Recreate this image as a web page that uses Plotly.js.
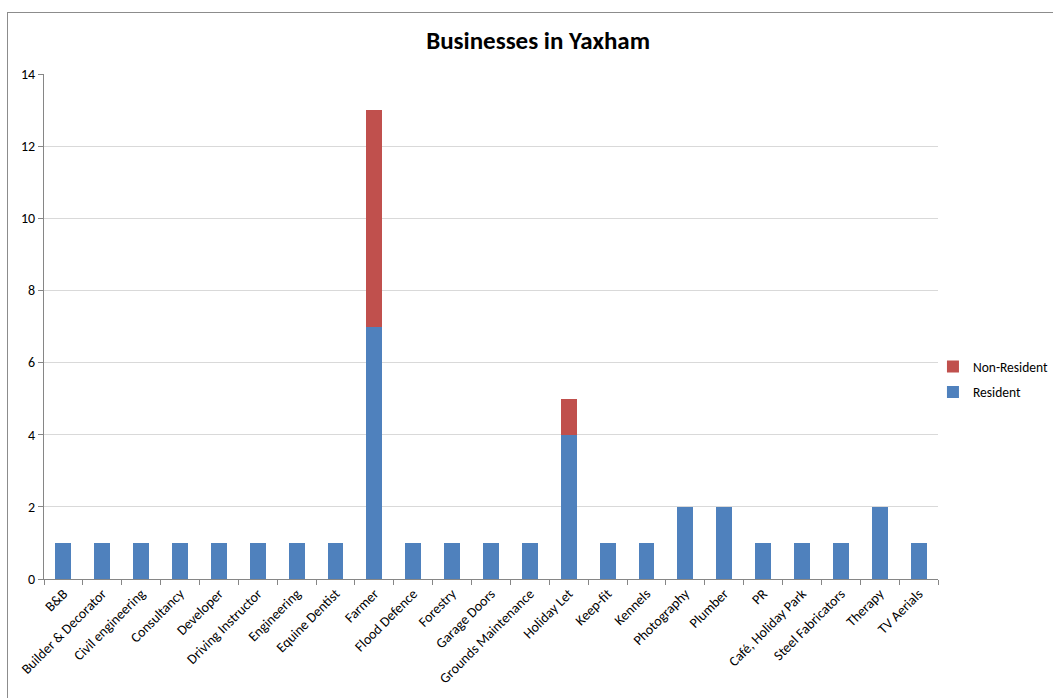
<!DOCTYPE html>
<html>
<head>
<meta charset="utf-8">
<script src="https://cdn.plot.ly/plotly-3.0.1.min.js"></script>
<style>
html,body{margin:0;padding:0;background:#fff;overflow:hidden;}
#chart{width:1053px;height:698px;position:absolute;left:0;top:0;}
#frame{position:absolute;left:7px;top:12px;width:1200px;height:900px;border:1px solid #8c8c8c;pointer-events:none;}
</style>
</head>
<body>
<div id="chart"></div>
<div id="frame"></div>
<script>
const categories = ["B&B","Builder & Decorator","Civil engineering","Consultancy","Developer","Driving Instructor","Engineering","Equine Dentist","Farmer","Flood Defence","Forestry","Garage Doors","Grounds Maintenance","Holiday Let","Keep-fit","Kennels","Photography","Plumber","PR","Café, Holiday Park","Steel Fabricators","Therapy","TV Aerials"];
const resident =    [1,1,1,1,1,1,1,1,7,1,1,1,1,4,1,1,2,2,1,1,1,2,1];
const nonResident = [0,0,0,0,0,0,0,0,6,0,0,0,0,1,0,0,0,0,0,0,0,0,0];
const yTicks = [0,2,4,6,8,10,12,14];

const font = "Calibri, Carlito, Lato, 'Liberation Sans', Arial, sans-serif";

const traces = [
  {type:'bar', name:'Resident', x:categories, y:resident, marker:{color:'#4F81BD'}, legendgroup:'r', legendrank:2},
  {type:'bar', name:'Non-Resident', x:categories, y:nonResident, marker:{color:'#C0504D'}, legendgroup:'n', legendrank:1}
];

const layout = {
  width:1053, height:698,
  barmode:'stack', bargap:0.59,
  paper_bgcolor:'rgba(0,0,0,0)', plot_bgcolor:'#fff',
  margin:{l:44, r:115, t:74, b:119, autoexpand:false},
  font:{family:font, size:14, color:'#000'},
  title:{text:'<b>Businesses in Yaxham</b>', x:0.511, xanchor:'center', y:0.943, yanchor:'middle', font:{family:font, size:25, color:'#000'}},
  xaxis:{
    type:'category', tickangle:-45, ticks:'outside', ticklen:5, tickcolor:'#868686',
    tickson:'boundaries', showline:true, linecolor:'#868686', linewidth:1,
    showgrid:false, tickfont:{family:font, size:14, color:'#000'}, automargin:false
  },
  yaxis:{
    range:[0,14], tickvals:yTicks, ticks:'outside', ticklen:5, tickcolor:'#868686',
    showline:true, linecolor:'#868686', linewidth:1, gridcolor:'#D9D9D9', gridwidth:1,
    zeroline:false, tickfont:{family:font, size:14, color:'#000'}, automargin:false
  },
  showlegend:true,
  legend:{xref:'container', yref:'container', x:0.886, xanchor:'left', y:0.456, yanchor:'middle',
    traceorder:'grouped', tracegroupgap:5,
    font:{family:font, size:13.5, color:'#000'}, itemwidth:30, bgcolor:'rgba(0,0,0,0)'}
};

Plotly.newPlot('chart', traces, layout, {displayModeBar:false, staticPlot:true});
</script>
</body>
</html>
